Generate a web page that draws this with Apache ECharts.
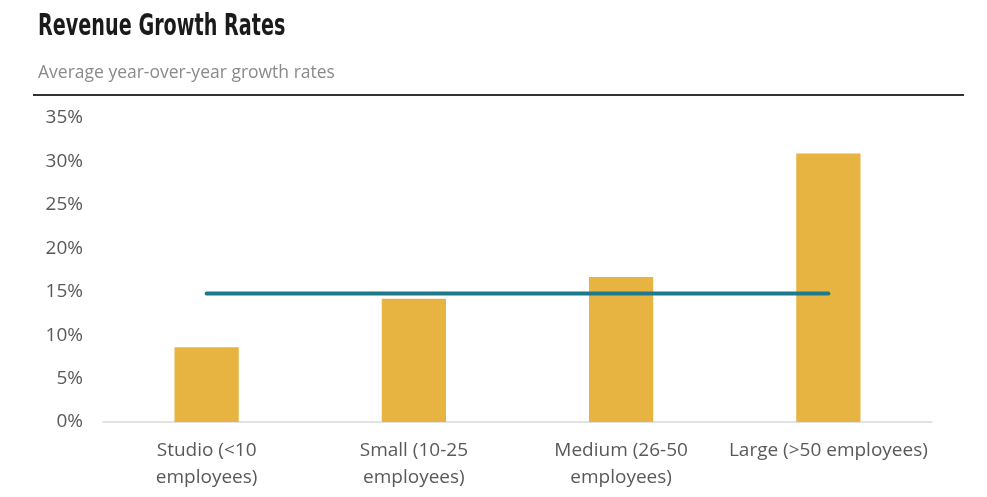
<!DOCTYPE html>
<html>
<head>
<meta charset="utf-8">
<script src="https://cdn.jsdelivr.net/npm/echarts@6/dist/echarts.min.js"></script>
<style>
html,body{margin:0;padding:0;background:#fff;}
#chart{width:987px;height:497px;}
</style>
</head>
<body>
<div id="chart"></div>
<script>
var titleText = 'Revenue Growth Rates';
var subtitleText = 'Average year-over-year growth rates';
var categories = ['Studio (<10\nemployees)', 'Small (10-25\nemployees)', 'Medium (26-50\nemployees)', 'Large (>50 employees)'];
var growthRates = [8.6, 14.2, 16.7, 30.9];
var averageRate = [14.8, 14.8, 14.8, 14.8];
var yTicks = [0, 5, 10, 15, 20, 25, 30, 35];

var chart = echarts.init(document.getElementById('chart'));
chart.setOption({
  backgroundColor: '#fff',
  animation: false,
  graphic: [{
    type: 'text',
    x: 38,
    y: 27,
    scaleX: 0.64,
    style: {
      text: titleText,
      font: 'bold 30px "DejaVu Sans", sans-serif',
      fill: '#1a1a1a',
      textVerticalAlign: 'middle'
    }
  }, {
    type: 'text',
    x: 38,
    y: 73,
    style: {
      text: subtitleText,
      font: '17.5px "Open Sans", sans-serif',
      fill: '#8a8a8a',
      textVerticalAlign: 'middle'
    }
  }, {
    type: 'line',
    shape: { x1: 33, y1: 95, x2: 964, y2: 95 },
    style: { stroke: '#333', lineWidth: 2 }
  }],
  grid: { left: 103, right: 55, top: 118, bottom: 75 },
  xAxis: {
    type: 'category',
    data: categories,
    axisLine: { lineStyle: { color: '#d9d9d9', width: 1.5 } },
    axisTick: { show: false },
    axisLabel: {
      fontFamily: '"Open Sans", sans-serif',
      fontSize: 19,
      color: '#595959',
      lineHeight: 27,
      margin: 15,
      interval: 0
    }
  },
  yAxis: {
    type: 'value',
    min: 0,
    max: 35,
    interval: 5,
    splitLine: { show: false },
    axisLine: { show: false },
    axisTick: { show: false },
    axisLabel: {
      fontFamily: '"Open Sans", sans-serif',
      fontSize: 19,
      color: '#595959',
      margin: 20,
      formatter: function (v) { return yTicks.indexOf(v) >= 0 ? v + '%' : ''; }
    }
  },
  series: [{
    type: 'bar',
    data: growthRates,
    barWidth: '31%',
    itemStyle: { color: '#E8B441' }
  }, {
    type: 'line',
    data: averageRate,
    symbol: 'none',
    lineStyle: { color: '#1D7A8C', width: 4, cap: 'round' },
    z: 3
  }]
});
</script>
</body>
</html>
